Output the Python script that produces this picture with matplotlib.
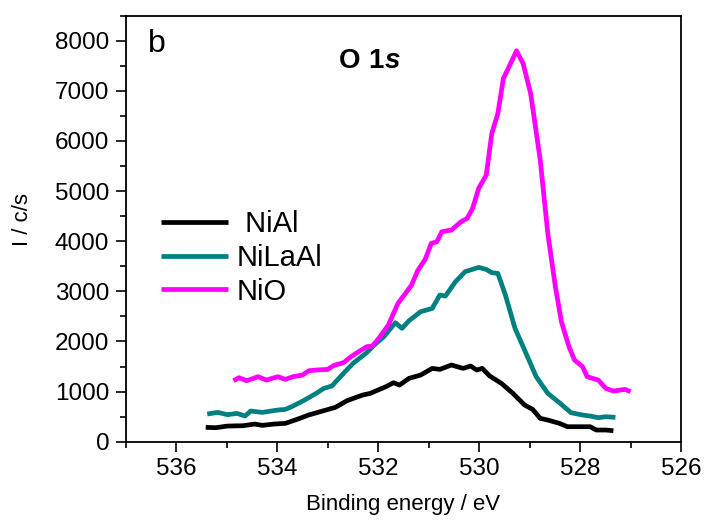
import matplotlib
matplotlib.use("Agg")
import matplotlib.pyplot as plt
from matplotlib.ticker import MultipleLocator

plt.rcParams['font.family'] = ['Liberation Sans', 'DejaVu Sans']
plt.rcParams['mathtext.fontset'] = 'custom'
plt.rcParams['mathtext.bfit'] = 'Liberation Sans:italic:bold'
plt.rcParams['mathtext.bf'] = 'Liberation Sans:bold'

# NiAl
nial_e = [535.42, 535.22, 534.99, 534.68, 534.45, 534.30, 534.07, 533.84, 533.61, 533.38,
          533.15, 532.85, 532.62, 532.31, 532.16, 531.85, 531.70, 531.58, 531.39, 531.16,
          530.93, 530.78, 530.55, 530.32, 530.17, 530.05, 529.94, 529.79, 529.56, 529.33,
          529.10, 528.94, 528.79, 528.64, 528.41, 528.25, 528.03, 527.80, 527.68, 527.49, 527.34]
nial_i = [286, 279, 312, 319, 352, 326, 352, 366, 446, 532,
          599, 685, 818, 931, 964, 1097, 1177, 1130, 1264, 1330,
          1463, 1443, 1530, 1463, 1510, 1430, 1463, 1310, 1164, 964,
          732, 645, 466, 432, 366, 299, 299, 299, 233, 233, 219]

# NiLaAl
nilaal_e = [535.39, 535.18, 534.99, 534.80, 534.64, 534.53, 534.30, 533.99, 533.84, 533.69,
            533.46, 533.23, 533.08, 532.92, 532.69, 532.50, 532.23, 532.08, 531.89, 531.66,
            531.53, 531.39, 531.16, 530.93, 530.78, 530.67, 530.47, 530.28, 530.01, 529.86,
            529.75, 529.63, 529.48, 529.29, 529.10, 528.87, 528.64, 528.41, 528.18, 527.95,
            527.80, 527.64, 527.49, 527.30]
nilaal_i = [552, 585, 539, 565, 512, 612, 585, 632, 645, 712,
            831, 964, 1064, 1111, 1363, 1563, 1776, 1929, 2095, 2374,
            2261, 2414, 2594, 2660, 2926, 2906, 3192, 3392, 3478, 3438,
            3372, 3358, 2926, 2261, 1829, 1297, 964, 778, 579, 532,
            512, 479, 499, 485]

# NiO
nio_e = [534.87, 534.76, 534.61, 534.38, 534.22, 533.99, 533.84, 533.69, 533.50, 533.38,
         533.23, 533.00, 532.88, 532.69, 532.54, 532.39, 532.23, 532.12, 531.99, 531.80,
         531.61, 531.45, 531.34, 531.22, 531.07, 530.95, 530.84, 530.74, 530.55, 530.36,
         530.24, 530.13, 530.01, 529.86, 529.75, 529.63, 529.52, 529.36, 529.26, 529.13,
         528.98, 528.79, 528.64, 528.49, 528.37, 528.22, 528.11, 527.95, 527.86, 527.64,
         527.49, 527.34, 527.11, 527.00]
nio_i = [1217, 1277, 1217, 1297, 1230, 1297, 1244, 1297, 1330, 1416,
         1430, 1443, 1523, 1576, 1696, 1796, 1895, 1909, 2062, 2328,
         2760, 2973, 3126, 3411, 3638, 3957, 3990, 4190, 4223, 4389,
         4456, 4655, 5054, 5320, 6151, 6550, 7249, 7581, 7800, 7548,
         6949, 5619, 4156, 3092, 2394, 1895, 1629, 1496, 1297, 1230,
         1064, 1011, 1044, 998]

labels = [' NiAl', 'NiLaAl', 'NiO']
colors = ['#000000', '#008080', '#ff00ff']

fig = plt.figure(figsize=(7.05, 5.22), dpi=100)
ax = fig.add_axes([126/705, 1-441.7/522, (681-126)/705, (441.7-15.7)/522])

for e, i, lab, c in zip([nial_e, nilaal_e, nio_e], [nial_i, nilaal_i, nio_i], labels, colors):
    ax.plot(e, i, color=c, lw=3.4, label=lab, solid_capstyle='butt')

ax.set_xlim(537, 526)
ax.set_ylim(0, 8500)
ax.xaxis.set_major_locator(MultipleLocator(2))
ax.xaxis.set_minor_locator(MultipleLocator(1))
ax.yaxis.set_major_locator(MultipleLocator(1000))
ax.yaxis.set_minor_locator(MultipleLocator(500))
ax.tick_params(which='major', direction='out', length=7, width=1.2, labelsize=17.5, pad=5)
ax.tick_params(which='minor', direction='out', length=4, width=1.2)
ax.tick_params(top=False, right=False, which='both')
for s in ax.spines.values():
    s.set_linewidth(1.3)

ax.set_xlabel('Binding energy / eV', fontsize=16, labelpad=10)
ax.set_ylabel('I / c/s', fontsize=16)
ax.yaxis.set_label_coords((33-126)/555, 1-(220-15.7)/426)

ax.text((148-126)/555, 1-(52-15.7)/426, 'b', transform=ax.transAxes, fontsize=23,
        ha='left', va='baseline')
ax.text((369-126)/555, 1-(68-15.7)/426, r'$\mathbf{O\ 1}\mathbfit{s}$', transform=ax.transAxes,
        fontsize=20, ha='center', va='baseline')

leg = ax.legend(loc='upper left', bbox_to_anchor=((161-126)/555, 1-(210-15.7)/426),
                frameon=False, fontsize=21, handlelength=2.3, handletextpad=0.3,
                labelspacing=0.2, borderpad=0, borderaxespad=0)

fig.savefig('out.png', dpi=100)
